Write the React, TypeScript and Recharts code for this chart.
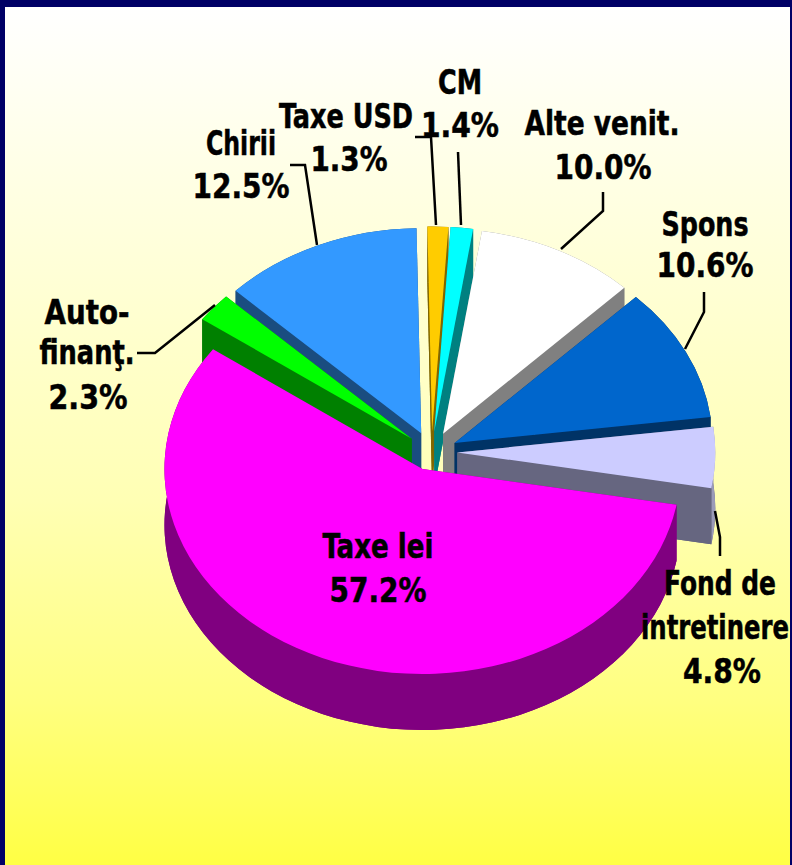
import { Pie, PieChart } from "recharts";

const NAMES = ["Chirii", "Taxe USD", "CM", "Alte venit.", "Spons", "Fond de intretinere", "Taxe lei", "Auto-finanţ."];
const VALUES = [12.5, 1.3, 1.4, 10.0, 10.6, 4.8, 57.2, 2.3];
const TOPS = ["#3399FF", "#FFCC00", "#00FFFF", "#FFFFFF", "#0066CC", "#CCCCFF", "#FF00FF", "#00FF00"];
const SIDES = ["#1A4D80", "#806600", "#008080", "#808080", "#003366", "#666680", "#800080", "#008000"];
const WALLS = ["#1A4D80", "#806600", "#008080", "#808080", "#003366", "#9A9AB8", "#800080", "#008000"];
const EXPLODE = [0.1, 0.1, 0.1, 0.1, 0.1, 0.1, 0.09, 0.1];

// label lines and leader lines, one entry per slice
const LABEL_LINES = [
  ["Chirii", "12.5%"],
  ["Taxe USD", "1.3%"],
  ["CM", "1.4%"],
  ["Alte venit.", "10.0%"],
  ["Spons", "10.6%"],
  ["Fond de", "intretinere", "4.8%"],
  ["Taxe lei", "57.2%"],
  ["Auto-", "finanţ.", "2.3%"],
];
const LABEL_X = [
  [241, 241],
  [346, 349],
  [460, 460],
  [602, 603],
  [705, 705],
  [720, 715, 722],
  [378, 378],
  [87, 87, 88],
];
const LABEL_Y = [
  [155, 198],
  [128, 171],
  [94, 137],
  [135, 179],
  [236, 277],
  [595, 639, 683],
  [558, 602],
  [324, 364, 409],
];
// the reference's type is narrower than any installed face, so fit each line
const LABEL_W = [
  [70, 97],
  [134, 77],
  [44, 78],
  [155, 97],
  [87, 97],
  [112, 148, 78],
  [111, 97],
  [85, 95, 79],
];
const LEADERS = [
  "M317 245L305 165L290 165",
  "M436 225L431 137L415 137",
  "M461 225L458 152",
  "M561 249L603 211L603 192",
  "M685 349L704 312L704 292",
  "M715 511L720 537L720 556",
  "",
  "M215 305L155 353L137 353",
];

const WIDTH = 792;
const HEIGHT = 865;
const CX = 431.5;
const CY = 452;
const RADIUS = 258;
const TILT = 205 / 258; // the pie is seen from above, so y is squashed
const DEPTH = 56;
const RAD = Math.PI / 180;
const FONT = "'DejaVu Sans Condensed', 'DejaVu Sans', sans-serif";

const chartData = NAMES.map((name, idx) => ({ name, value: VALUES[idx], idx }));

// Recharts hands us flat-circle angles; turn them into a tilted, exploded slice.
function geometry(props: any) {
  const t0 = -props.startAngle;
  const t1 = -props.endAngle;
  const mid = ((t0 + t1) / 2) * RAD;
  const idx = props.idx ?? props.payload?.idx ?? 0;
  const rx = props.outerRadius;
  const ry = rx * TILT;
  const ax = props.cx + EXPLODE[idx] * rx * Math.cos(mid);
  const ay = props.cy + EXPLODE[idx] * ry * Math.sin(mid);
  const at = (t: number, dy = 0) => [ax + rx * Math.cos(t * RAD), ay + ry * Math.sin(t * RAD) + dy];
  return { t0, t1, idx, rx, ry, ax, ay, at, large: Math.abs(t1 - t0) > 180 ? 1 : 0 };
}

function sectorPath(props: any, dy: number) {
  const { t0, t1, rx, ry, ax, ay, at, large } = geometry(props);
  const [x0, y0] = at(t0, dy);
  const [x1, y1] = at(t1, dy);
  return `M${ax} ${ay + dy}L${x0} ${y0}A${rx} ${ry} 0 ${large} 1 ${x1} ${y1}Z`;
}

function SideShape(props: any) {
  const { t0, t1, idx, rx, ry, ax, ay, at, large } = geometry(props);
  const [x0, y0] = at(t0);
  const [x1, y1] = at(t1);
  const side = SIDES[idx];
  return (
    <g>
      <path d={sectorPath(props, DEPTH)} fill={side} />
      <path d={`M${ax} ${ay}L${x0} ${y0}L${x0} ${y0 + DEPTH}L${ax} ${ay + DEPTH}Z`} fill={side} />
      <path
        d={`M${x0} ${y0}A${rx} ${ry} 0 ${large} 1 ${x1} ${y1}L${x1} ${y1 + DEPTH}A${rx} ${ry} 0 ${large} 0 ${x0} ${y0 + DEPTH}Z`}
        fill={WALLS[idx]}
      />
      <path d={`M${ax} ${ay}L${x1} ${y1}L${x1} ${y1 + DEPTH}L${ax} ${ay + DEPTH}Z`} fill={side} />
    </g>
  );
}

function TopShape(props: any) {
  const { idx } = geometry(props);
  return <path d={sectorPath(props, 0)} fill={TOPS[idx]} />;
}

function SliceLabel(props: any) {
  const idx = props.idx ?? props.index ?? 0;
  return (
    <g>
      {LEADERS[idx] && <path d={LEADERS[idx]} fill="none" stroke="#000" strokeWidth={2.5} />}
      {LABEL_LINES[idx].map((line, i) => (
        <text
          key={line}
          x={LABEL_X[idx][i] - LABEL_W[idx][i] / 2}
          y={LABEL_Y[idx][i]}
          textLength={LABEL_W[idx][i]}
          lengthAdjust="spacingAndGlyphs"
          fontFamily={FONT}
          fontWeight="bold"
          fontSize={33}
          fill="#000"
          stroke="#000"
          strokeWidth={0.5}
        >
          {line}
        </text>
      ))}
    </g>
  );
}

export default function App() {
  return (
    <div
      style={{
        position: "absolute",
        left: 0,
        top: 0,
        width: WIDTH,
        height: HEIGHT,
        overflow: "hidden",
        background:
          "linear-gradient(180deg, #FFFFFF 7px, #FFFFB4 500px, #FFFF80 700px, #FFFF44 865px)",
      }}
    >
      <PieChart width={WIDTH} height={HEIGHT} margin={{ top: 0, right: 0, bottom: 0, left: 0 }}>
        <Pie
          data={chartData}
          dataKey="value"
          cx={CX}
          cy={CY}
          outerRadius={RADIUS}
          startAngle={-224}
          endAngle={-584}
          stroke="none"
          shape={SideShape}
          isAnimationActive={false}
        />
        <Pie
          data={chartData}
          dataKey="value"
          cx={CX}
          cy={CY}
          outerRadius={RADIUS}
          startAngle={-224}
          endAngle={-584}
          stroke="none"
          shape={TopShape}
          label={SliceLabel}
          labelLine={false}
          isAnimationActive={false}
        />
      </PieChart>
      <div
        style={{
          position: "absolute",
          inset: 0,
          boxSizing: "border-box",
          borderStyle: "solid",
          borderColor: "#000066",
          borderWidth: "7px 2px 0 5px",
          pointerEvents: "none",
        }}
      />
    </div>
  );
}
